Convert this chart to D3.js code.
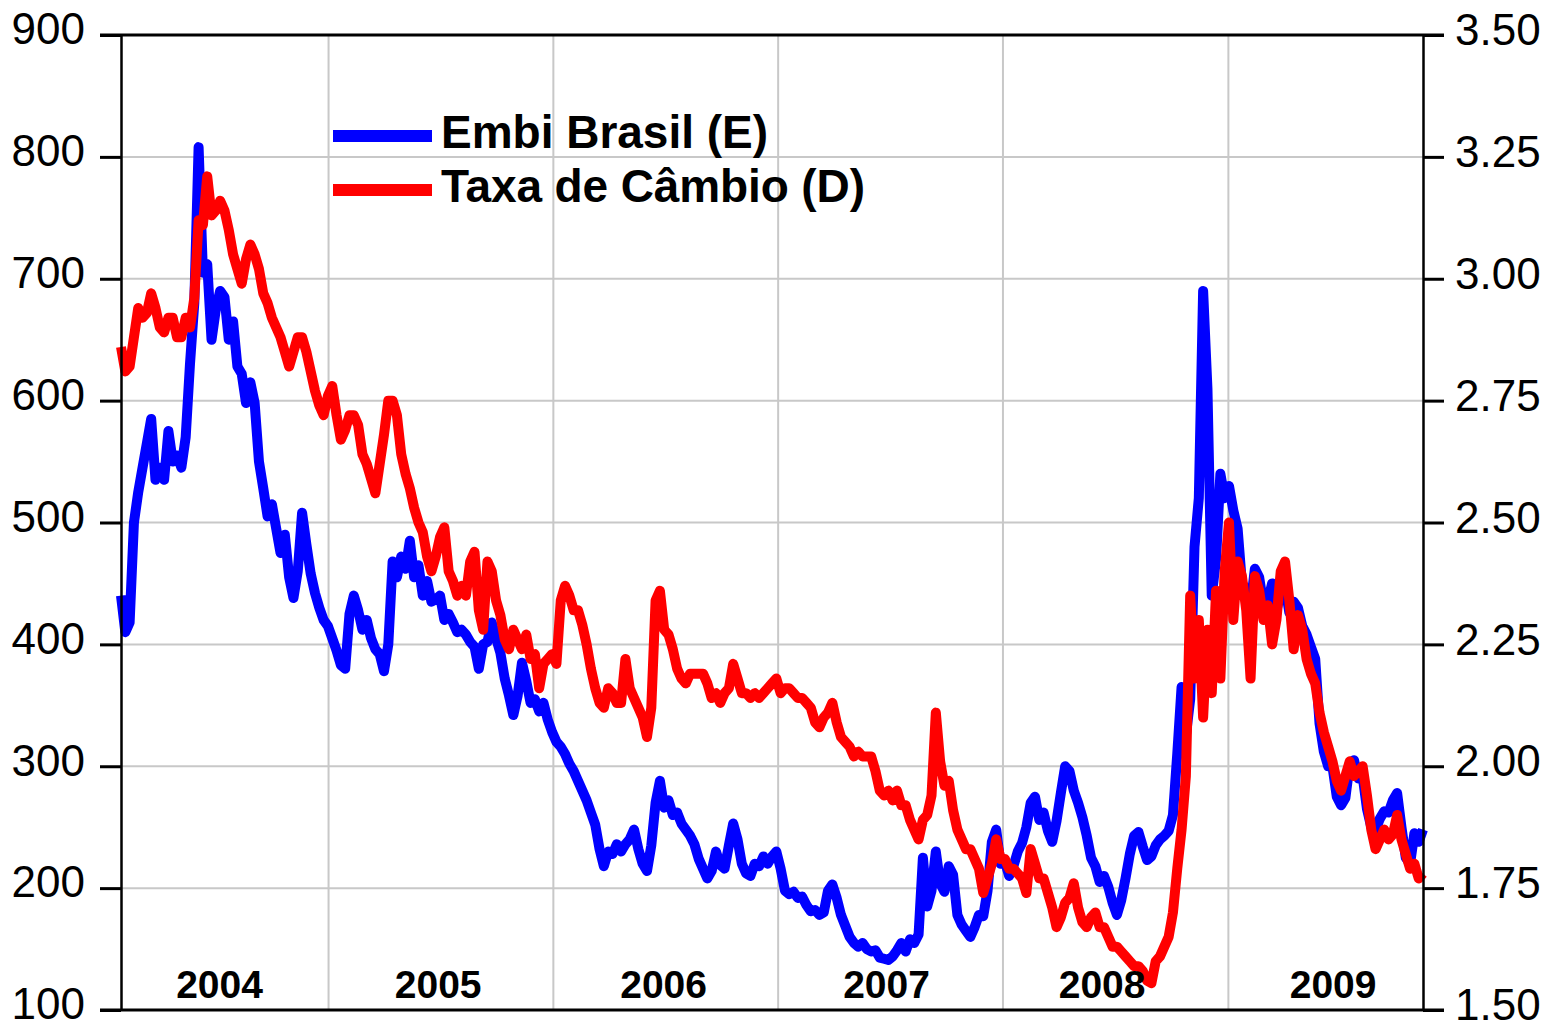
<!DOCTYPE html>
<html>
<head>
  <title>Embi Brasil e Taxa de Câmbio</title>
  <script src="https://d3js.org/d3.v7.min.js"></script>
  <style>
    body { margin: 0; background: #fff; }
    svg { display: block; font-family: "Liberation Sans", Arial, sans-serif; }
    .grid line { stroke: #c8c8c8; stroke-width: 2; }
    .series { fill: none; stroke-width: 10; stroke-linejoin: round; }
    .axis text { font-size: 44px; fill: #000; }
    .axis line, .axis path { stroke: #000; }
  </style>
</head>
<body>
<div class="chart"></div>
<script>
  // weekly observations, starting 30 Jan 2004
  const startDate = new Date(2004, 0, 30);

  // Embi Brasil, left axis (bp)
  const embi = [
    440,410,418,500,525,545,565,585,535,545,
    535,575,550,555,545,570,630,680,808,705,
    712,650,675,690,685,650,665,628,622,598,
    615,598,550,528,505,515,495,475,490,455,
    438,460,508,482,458,442,430,420,415,405,
    395,383,380,425,440,428,412,420,405,396,
    392,378,400,468,455,472,462,485,455,465,
    440,452,435,437,440,420,425,418,410,412,
    408,402,398,380,400,402,418,405,393,372,
    358,342,358,385,370,352,355,345,352,338,
    328,320,316,310,302,296,288,280,272,262,
    252,232,218,230,228,236,230,236,240,248,
    232,220,214,235,270,288,266,272,260,262,
    253,248,243,236,224,216,208,214,230,219,
    216,235,253,240,220,212,210,220,218,226,
    220,226,230,216,198,195,197,192,193,186,
    181,182,178,180,198,203,192,178,169,160,
    155,152,155,150,148,149,143,142,141,144,
    149,155,148,158,155,162,225,185,198,230,
    204,197,218,211,178,170,165,160,168,178,
    177,198,238,248,220,222,210,218,230,237,
    250,270,275,256,262,247,238,255,278,300,
    296,280,270,258,243,225,218,205,210,201,
    188,178,190,208,228,243,246,234,223,226,
    235,240,243,247,260,310,365,325,355,480,
    520,690,610,440,470,540,520,530,510,495,
    450,445,432,462,455,432,435,450,428,442,
    448,426,435,430,415,408,398,388,335,312,
    300,300,275,268,274,302,305,290,292,265,
    250,248,257,263,262,272,278,250,225,220,
    245,238,248
  ];

  // Taxa de Câmbio, right axis (R$/US$)
  const cambio = [
    2.86,2.81,2.82,2.88,2.94,2.92,2.93,2.97,2.94,2.90,
    2.89,2.92,2.92,2.88,2.88,2.92,2.90,2.96,3.12,3.11,
    3.21,3.13,3.14,3.16,3.14,3.10,3.05,3.02,2.99,3.04,
    3.07,3.05,3.02,2.97,2.95,2.92,2.90,2.88,2.85,2.82,
    2.85,2.88,2.88,2.85,2.81,2.77,2.74,2.72,2.76,2.78,
    2.72,2.67,2.69,2.72,2.72,2.70,2.64,2.62,2.59,2.56,
    2.62,2.68,2.75,2.75,2.72,2.64,2.60,2.57,2.53,2.50,
    2.48,2.43,2.40,2.43,2.47,2.49,2.40,2.38,2.35,2.37,
    2.35,2.42,2.44,2.32,2.28,2.42,2.40,2.34,2.31,2.26,
    2.24,2.28,2.26,2.24,2.27,2.22,2.23,2.16,2.21,2.22,
    2.23,2.21,2.34,2.37,2.35,2.32,2.32,2.29,2.25,2.20,
    2.16,2.13,2.12,2.16,2.15,2.13,2.13,2.22,2.16,2.14,
    2.12,2.10,2.06,2.12,2.34,2.36,2.28,2.27,2.24,2.20,
    2.18,2.17,2.19,2.19,2.19,2.19,2.17,2.14,2.15,2.13,
    2.15,2.16,2.21,2.18,2.15,2.15,2.14,2.15,2.14,2.15,
    2.16,2.17,2.18,2.15,2.16,2.16,2.15,2.14,2.14,2.13,
    2.12,2.09,2.08,2.10,2.11,2.13,2.09,2.06,2.05,2.04,
    2.02,2.03,2.02,2.02,2.02,1.99,1.95,1.94,1.95,1.93,
    1.95,1.92,1.92,1.89,1.87,1.85,1.89,1.90,1.94,2.11,
    2.01,1.96,1.97,1.91,1.87,1.85,1.83,1.83,1.81,1.79,
    1.74,1.77,1.80,1.85,1.81,1.81,1.79,1.79,1.78,1.77,
    1.74,1.83,1.80,1.77,1.77,1.74,1.71,1.67,1.69,1.72,
    1.73,1.76,1.71,1.68,1.67,1.69,1.70,1.67,1.67,1.65,
    1.63,1.63,1.62,1.61,1.60,1.59,1.59,1.58,1.56,1.555,
    1.60,1.61,1.63,1.65,1.70,1.79,1.87,1.98,2.35,2.18,
    2.30,2.10,2.28,2.15,2.36,2.18,2.40,2.50,2.30,2.42,
    2.39,2.32,2.18,2.39,2.36,2.30,2.33,2.25,2.30,2.40,
    2.42,2.34,2.24,2.31,2.28,2.22,2.19,2.17,2.11,2.07,
    2.04,2.01,1.97,1.95,1.98,2.01,1.98,1.99,2.00,1.94,
    1.87,1.83,1.85,1.87,1.85,1.86,1.90,1.85,1.82,1.79,
    1.80,1.77,1.78
  ];

  const leftTicks = [100, 200, 300, 400, 500, 600, 700, 800, 900];
  const rightTicks = [1.50, 1.75, 2.00, 2.25, 2.50, 2.75, 3.00, 3.25, 3.50];
  const yearLabels = ["2004", "2005", "2006", "2007", "2008", "2009"];
  const yearLabelDates = ["2004-07-08", "2005-06-28", "2006-06-29", "2007-06-26", "2008-06-10", "2009-06-20"];
  const legendNames = ["Embi Brasil (E)", "Taxa de Câmbio (D)"];

  const dates = embi.map((d, i) => d3.timeDay.offset(startDate, 7 * i));

  const width = 1558, height = 1022;
  const plotLeft = 121, plotRight = 1423, plotTop = 35, plotBottom = 1010;

  const svg = d3.select(".chart")
    .append("svg")
    .attr("width", width)
    .attr("height", height);

  const x = d3.scaleTime()
    .domain([startDate, dates[dates.length - 1]])
    .range([plotLeft, plotRight]);
  const yL = d3.scaleLinear().domain([100, 900]).range([plotBottom, plotTop]);
  const yR = d3.scaleLinear().domain([1.5, 3.5]).range([plotBottom, plotTop]);

  // grid
  const grid = svg.append("g").attr("class", "grid");
  grid.selectAll(".h")
    .data(leftTicks.slice(1, -1))
    .join("line")
    .attr("x1", plotLeft).attr("x2", plotRight)
    .attr("y1", d => yL(d)).attr("y2", d => yL(d));
  grid.selectAll(".v")
    .data(d3.timeYear.range(new Date(2005, 0, 1), new Date(2010, 0, 1)))
    .join("line")
    .attr("x1", d => x(d)).attr("x2", d => x(d))
    .attr("y1", plotTop).attr("y2", plotBottom);

  // legend
  const legend = svg.append("g");
  const legendColors = ["#0000ff", "#ff0000"];
  const legendY = [136, 190];
  legendNames.forEach((name, i) => {
    legend.append("line")
      .attr("x1", 333).attr("x2", 432)
      .attr("y1", legendY[i]).attr("y2", legendY[i])
      .attr("stroke", legendColors[i])
      .attr("stroke-width", 12);
    legend.append("text")
      .attr("x", 441)
      .attr("y", legendY[i] + 12)
      .attr("font-size", 46)
      .attr("font-weight", "bold")
      .attr("textLength", i === 0 ? 327 : 424)
      .attr("lengthAdjust", "spacing")
      .text(name);
  });

  // series
  const lineL = d3.line().x((d, i) => x(dates[i])).y(d => yL(d));
  const lineR = d3.line().x((d, i) => x(dates[i])).y(d => yR(d));

  svg.append("path")
    .datum(embi)
    .attr("class", "series")
    .attr("stroke", "#0000ff")
    .attr("d", lineL);

  svg.append("path")
    .datum(cambio)
    .attr("class", "series")
    .attr("stroke", "#ff0000")
    .attr("d", lineR);

  // year labels
  const parseDay = d3.timeParse("%Y-%m-%d");
  svg.selectAll(".year")
    .data(yearLabels)
    .join("text")
    .attr("x", (d, i) => x(parseDay(yearLabelDates[i])))
    .attr("y", 998)
    .attr("text-anchor", "middle")
    .attr("font-size", 39)
    .attr("font-weight", "bold")
    .text(d => d);

  // axes
  const axL = svg.append("g")
    .attr("class", "axis")
    .attr("transform", `translate(${plotLeft},0)`)
    .call(d3.axisLeft(yL).tickValues(leftTicks).tickSize(21).tickSizeOuter(0).tickPadding(15).tickFormat(d3.format("d")));
  axL.select(".domain").attr("stroke-width", 2.5);
  axL.selectAll(".tick line").attr("stroke-width", 3);
  axL.selectAll("text").attr("dy", "0.2em");

  const axR = svg.append("g")
    .attr("class", "axis")
    .attr("transform", `translate(${plotRight},0)`)
    .call(d3.axisRight(yR).tickValues(rightTicks).tickSize(21).tickSizeOuter(0).tickPadding(11).tickFormat(d3.format(".2f")));
  axR.select(".domain").attr("stroke-width", 2.5);
  axR.selectAll(".tick line").attr("stroke-width", 3);
  axR.selectAll("text").attr("dy", "0.22em");

  // top and bottom frame
  svg.selectAll(".frame")
    .data([plotTop, plotBottom])
    .join("line")
    .attr("x1", plotLeft - 21).attr("x2", plotRight + 21)
    .attr("y1", d => d).attr("y2", d => d)
    .attr("stroke", "#000")
    .attr("stroke-width", 3);
</script>
</body>
</html>
